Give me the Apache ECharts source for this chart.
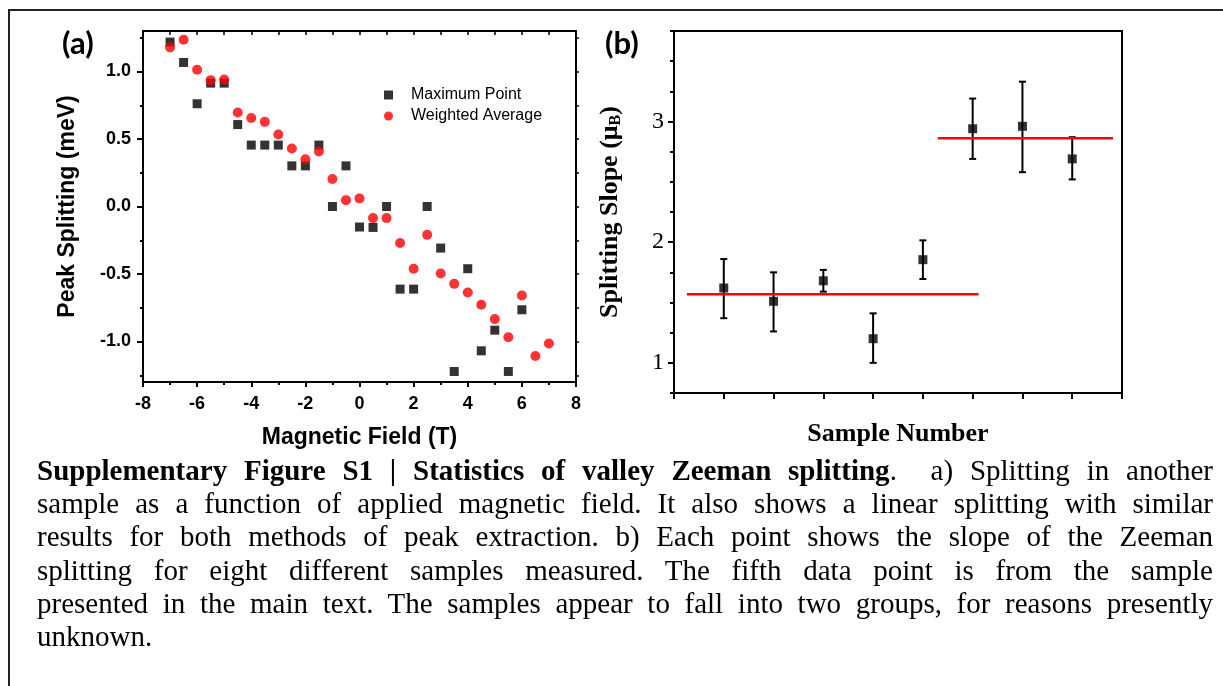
<!DOCTYPE html>
<html>
<head>
<meta charset="utf-8">
<script src="https://cdn.jsdelivr.net/npm/echarts@6/dist/echarts.min.js"></script>
<style>
  html, body { margin: 0; padding: 0; background: #fff; overflow: hidden; width: 1223px; height: 686px; }
  #chart { position: absolute; left: 0; top: 0; width: 1223px; height: 686px; }
  #caption {
    position: absolute; left: 37px; top: 454px; width: 1176px;
    font-family: "Liberation Serif", "Times New Roman", serif;
    font-size: 29px; line-height: 33.2px; color: #000;
  }
  #caption .ln { display: block; text-align: justify; text-align-last: justify; white-space: nowrap; }
  #caption .ln.last { text-align-last: left; }
</style>
</head>
<body>
<div id="chart"></div>
<div id="caption">
  <span class="ln"><b>Supplementary Figure S1 | Statistics of valley Zeeman splitting</b>.&nbsp; a) Splitting in another</span>
  <span class="ln">sample as a function of applied magnetic field. It also shows a linear splitting with similar</span>
  <span class="ln">results for both methods of peak extraction. b) Each point shows the slope of the Zeeman</span>
  <span class="ln">splitting for eight different samples measured. The fifth data point is from the sample</span>
  <span class="ln">presented in the main text. The samples appear to fall into two groups, for reasons presently</span>
  <span class="ln last">unknown.</span>
</div>
<script>
// (a) peak splitting vs field
const fieldT = [-7, -6.5, -6, -5.5, -5, -4.5, -4, -3.5, -3, -2.5, -2, -1.5, -1, -0.5, 0,
  0.5, 1, 1.5, 2, 2.5, 3, 3.5, 4, 4.5, 5, 5.5, 6, 6.5, 7];
const maxPoint = [1.218, 1.067, 0.761, 0.914, 0.914, 0.607, 0.455, 0.455, 0.455, 0.301, 0.301, 0.455, 0.0, 0.301, -0.152,
  -0.155, 0.0, -0.612, -0.612, 0.0, -0.308, -1.222, -0.461, -1.069, -0.916, -1.222, -0.765, null, null];
const weightedAvg = [1.178, 1.235, 1.013, 0.936, 0.941, 0.696, 0.655, 0.627, 0.533, 0.43, 0.35, 0.407, 0.204, 0.047, 0.06,
  -0.086, -0.086, -0.271, -0.461, -0.21, -0.496, -0.573, -0.637, -0.728, -0.834, -0.968, -0.659, -1.108, -1.015];
const splitMajor = [-1, -0.5, 0, 0.5, 1];
const splitMinor = [-1.25, -0.75, -0.25, 0.25, 0.75, 1.25];

// (b) slope per sample
const sampleNo = [1, 2, 3, 4, 5, 6, 7, 8];
const slope = [1.62, 1.51, 1.68, 1.20, 1.855, 2.94, 2.96, 2.69];
const slopeLow = [1.37, 1.26, 1.59, 1.00, 1.695, 2.69, 2.58, 2.52];
const slopeHigh = [1.86, 1.75, 1.77, 1.41, 2.015, 3.19, 3.33, 2.87];
const groupLevel = [1.568, 2.862];
const groupFrom = [0.26, 5.3];
const groupTo = [6.12, 8.82];
const slopeMajor = [1, 2, 3];
const slopeMinor = [0.75, 1.25, 1.5, 1.75, 2.25, 2.5, 2.75, 3.25, 3.5, 3.75];

const arial = "Liberation Sans";
const times = "Liberation Serif";
const axisLine = { onZero: false, lineStyle: { color: "#000", width: 2 } };

const chart = echarts.init(document.getElementById("chart"));

const pairs = (ys) => fieldT.map((x, i) => [x, ys[i]]).filter((p) => p[1] !== null);

chart.setOption({
  animation: false,
  grid: [
    { left: 143, top: 31, width: 433, height: 351 },
    { left: 674, top: 31, width: 448, height: 362 },
  ],
  legend: {
    left: 379,
    top: 82,
    orient: "vertical",
    itemWidth: 9,
    itemHeight: 9,
    itemGap: 5,
    textStyle: { fontFamily: arial, fontSize: 16, color: "#000", lineHeight: 14, padding: [0, 0, 0, 13] },
    data: [
      { name: "Maximum Point", icon: "rect" },
      { name: "Weighted Average", icon: "circle" },
    ],
  },
  graphic: [
    // figure frame (left and top edges only, as in the page crop)
    { type: "line", shape: { x1: 9, y1: 10, x2: 9, y2: 686 }, style: { stroke: "#222", lineWidth: 2 } },
    { type: "line", shape: { x1: 8, y1: 10, x2: 1223, y2: 10 }, style: { stroke: "#222", lineWidth: 2 } },
    { type: "text", left: 62, top: 28, style: { text: "(a)", font: "bold 31px Lato", fill: "#000" } },
    { type: "text", left: 605, top: 28, style: { text: "(b)", font: "bold 31px Lato", fill: "#000" } },
  ],
  xAxis: [
    {
      gridIndex: 0, type: "value", position: "bottom", min: -8, max: 8, interval: 2,
      axisLine, splitLine: { show: false },
      axisTick: { length: 5, lineStyle: { width: 2 } },
      minorTick: { show: true, splitNumber: 2, length: 3, lineStyle: { color: "#000", width: 2 } },
      axisLabel: { fontFamily: arial, fontWeight: "bold", fontSize: 18, color: "#000", margin: 13 },
      name: "Magnetic Field (T)", nameLocation: "middle", nameGap: 44,
      nameTextStyle: { fontFamily: arial, fontWeight: "bold", fontSize: 23, color: "#000" },
    },
    {
      gridIndex: 0, type: "value", position: "top", min: -8, max: 8, interval: 2,
      axisLine, splitLine: { show: false }, axisLabel: { show: false },
      axisTick: { inside: true, length: 4, lineStyle: { width: 1.5 } },
      minorTick: { show: true, splitNumber: 2, length: 4, lineStyle: { color: "#000", width: 1.5 } },
    },
    {
      gridIndex: 1, type: "value", position: "bottom", min: 0, max: 9, interval: 1,
      axisLine, splitLine: { show: false }, axisLabel: { show: false },
      axisTick: { length: 6, lineStyle: { width: 2 } },
      name: "Sample Number", nameLocation: "middle", nameGap: 28,
      nameTextStyle: { fontFamily: times, fontWeight: "bold", fontSize: 26, color: "#000" },
    },
    {
      gridIndex: 1, type: "value", position: "top", min: 0, max: 9,
      axisLine, splitLine: { show: false }, axisLabel: { show: false }, axisTick: { show: false },
    },
  ],
  yAxis: [
    {
      gridIndex: 0, type: "value", position: "left", min: -1.3, max: 1.3,
      axisLine, splitLine: { show: false },
      axisTick: { length: 6, customValues: splitMajor, lineStyle: { width: 2 } },
      axisLabel: {
        customValues: splitMajor, formatter: (v) => v.toFixed(1),
        fontFamily: arial, fontWeight: "bold", fontSize: 18, color: "#000", margin: 12,
      },
      name: "Peak Splitting (meV)", nameLocation: "middle", nameGap: 64,
      nameTextStyle: { fontFamily: arial, fontWeight: "bold", fontSize: 23, color: "#000" },
    },
    {
      gridIndex: 0, type: "value", position: "left", min: -1.3, max: 1.3,
      axisLine: { show: false, onZero: false }, splitLine: { show: false }, axisLabel: { show: false },
      axisTick: { length: 3, customValues: splitMinor, lineStyle: { color: "#000", width: 2 } },
    },
    {
      gridIndex: 0, type: "value", position: "right", min: -1.3, max: 1.3,
      axisLine, splitLine: { show: false }, axisLabel: { show: false },
      axisTick: { length: 3, customValues: splitMajor.concat(splitMinor), lineStyle: { width: 1.5 } },
    },
    {
      gridIndex: 1, type: "value", position: "left", min: 0.75, max: 3.75,
      axisLine, splitLine: { show: false },
      axisTick: { length: 6, customValues: slopeMajor, lineStyle: { width: 2 } },
      axisLabel: { customValues: slopeMajor, fontFamily: times, fontSize: 24, color: "#000", margin: 10 },
      name: "{t|Splitting Slope (μ}{s|B}{t|)}", nameLocation: "middle", nameGap: 50,
      nameTextStyle: {
        rich: {
          t: { fontFamily: times, fontWeight: "bold", fontSize: 26, color: "#000" },
          s: { fontFamily: times, fontWeight: "bold", fontSize: 16, color: "#000", verticalAlign: "bottom", padding: [12, 0, 0, 0] },
        },
      },
    },
    {
      gridIndex: 1, type: "value", position: "left", min: 0.75, max: 3.75,
      axisLine: { show: false, onZero: false }, splitLine: { show: false }, axisLabel: { show: false },
      axisTick: { length: 4, customValues: slopeMinor, lineStyle: { color: "#000", width: 2 } },
    },
    {
      gridIndex: 1, type: "value", position: "right", min: 0.75, max: 3.75,
      axisLine, splitLine: { show: false }, axisLabel: { show: false }, axisTick: { show: false },
    },
  ],
  series: [
    {
      name: "Maximum Point", type: "scatter", xAxisIndex: 0, yAxisIndex: 0,
      symbol: "rect", symbolSize: 9, itemStyle: { color: "#000" }, data: pairs(maxPoint), z: 2,
    },
    {
      name: "Weighted Average", type: "scatter", xAxisIndex: 0, yAxisIndex: 0,
      symbol: "circle", symbolSize: 10, itemStyle: { color: "#ff0000" }, data: pairs(weightedAvg), z: 3,
    },
    {
      name: "error", type: "custom", xAxisIndex: 2, yAxisIndex: 3,
      data: sampleNo.map((s, i) => [s, slopeLow[i], slopeHigh[i]]),
      renderItem: (params, api) => {
        const lo = api.coord([api.value(0), api.value(1)]);
        const hi = api.coord([api.value(0), api.value(2)]);
        const st = { stroke: "#000", lineWidth: 2 };
        const cap = 3.5;
        return {
          type: "group",
          children: [
            { type: "line", shape: { x1: lo[0], y1: lo[1], x2: hi[0], y2: hi[1] }, style: st },
            { type: "line", shape: { x1: lo[0] - cap, y1: lo[1], x2: lo[0] + cap, y2: lo[1] }, style: st },
            { type: "line", shape: { x1: hi[0] - cap, y1: hi[1], x2: hi[0] + cap, y2: hi[1] }, style: st },
          ],
        };
      },
      z: 2,
    },
    {
      name: "slope", type: "scatter", xAxisIndex: 2, yAxisIndex: 3,
      symbol: "rect", symbolSize: 9, itemStyle: { color: "#000" },
      data: sampleNo.map((s, i) => [s, slope[i]]), z: 4,
    },
  ].concat(groupLevel.map((lv, i) => ({
    name: "group" + i, type: "line", xAxisIndex: 2, yAxisIndex: 3,
    symbol: "none", lineStyle: { color: "#ff0000", width: 2.5 },
    data: [[groupFrom[i], lv], [groupTo[i], lv]], z: 3,
  }))),
});
</script>
</body>
</html>
